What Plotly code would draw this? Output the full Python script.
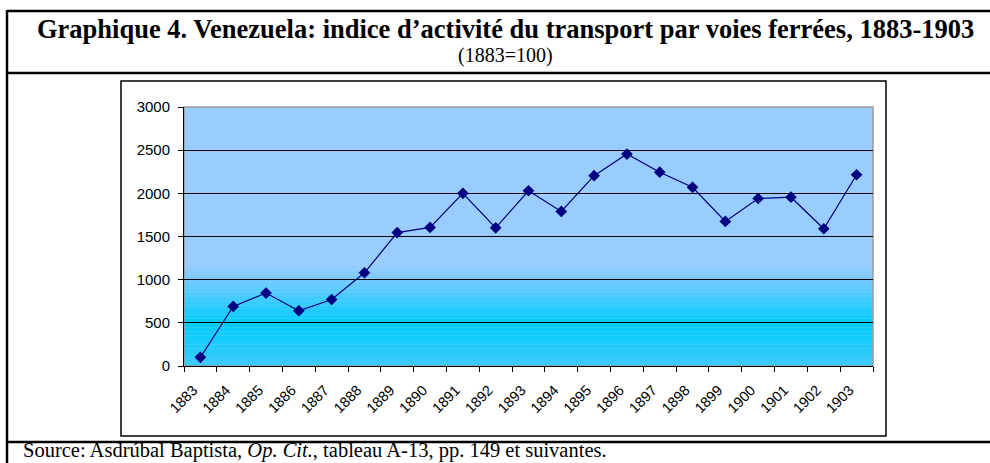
import plotly.graph_objects as go

# données
annees = [str(a) for a in range(1883, 1904)]
indice = [100, 690, 845, 640, 770, 1080, 1545, 1605, 2000, 1600, 2030,
          1790, 2205, 2455, 2245, 2070, 1675, 1940, 1955, 1590, 2215]

titre = "Graphique 4. Venezuela: indice d’activité du transport par voies ferrées, 1883-1903"
sous_titre = "(1883=100)"
source = "Source: Asdrúbal Baptista, <i>Op. Cit.</i>, tableau A-13, pp. 149 et suivantes."

W, H = 990, 463
L, R, T, B = 184, 873, 107, 366  # zone de tracé en pixels


def px(x):
    return (x - L) / (R - L)


def py(y):
    return (B - y) / (B - T)


def hexrgb(c):
    return tuple(int(c[i:i + 2], 16) for i in (1, 3, 5))


def couleur(v, stops):
    for (v0, c0), (v1, c1) in zip(stops, stops[1:]):
        if v0 <= v <= v1:
            t = (v - v0) / (v1 - v0) if v1 > v0 else 0
            a, b = hexrgb(c0), hexrgb(c1)
            return "rgb(%d,%d,%d)" % tuple(round(a[i] + (b[i] - a[i]) * t) for i in range(3))
    return stops[-1][1]


fig = go.Figure()

fig.add_trace(go.Scatter(
    x=annees, y=indice, mode="lines+markers",
    line=dict(color="#000080", width=1.2),
    marker=dict(symbol="diamond", size=9, color="#000080"),
    showlegend=False, hoverinfo="x+y",
))

# fond dégradé
stops = [(0, "#3ccbfb"), (500, "#00ccff"), (1150, "#99ccff"), (3000, "#99ccff")]
n = 60
for i in range(n):
    y0 = 3000 * i / n
    y1 = 3000 * (i + 1) / n
    fig.add_shape(type="rect", xref="paper", yref="y", x0=0, x1=1, y0=y0, y1=y1,
                  fillcolor=couleur((y0 + y1) / 2, stops), line=dict(width=0),
                  layer="below")

# bordure grise de la zone de tracé
fig.add_shape(type="rect", xref="paper", yref="paper", x0=0, x1=1, y0=0, y1=1,
              line=dict(color="#9a9a9a", width=1.5), layer="below")

# cadre du graphique
fig.add_shape(type="rect", xref="paper", yref="paper",
              x0=px(121), x1=px(886), y0=py(436), y1=py(81),
              line=dict(color="black", width=1.5))

# cadre du tableau
for yy in (11, 73, 442):
    fig.add_shape(type="line", xref="paper", yref="paper",
                  x0=px(7), x1=px(990), y0=py(yy), y1=py(yy),
                  line=dict(color="black", width=2.5))
fig.add_shape(type="line", xref="paper", yref="paper",
              x0=px(7), x1=px(7), y0=py(10), y1=py(463),
              line=dict(color="black", width=2.5))

fig.add_annotation(text="<b>" + titre + "</b>", xref="paper", yref="paper",
                   x=px(505), y=py(29), xanchor="center", yanchor="middle", showarrow=False,
                   font=dict(family="Liberation Serif", size=26.5, color="black"))
fig.add_annotation(text=sous_titre, xref="paper", yref="paper",
                   x=px(505), y=py(56), xanchor="center", yanchor="middle", showarrow=False,
                   font=dict(family="Liberation Serif", size=20, color="black"))
fig.add_annotation(text=source, xref="paper", yref="paper",
                   x=px(22), y=py(463), xanchor="left", yanchor="bottom", showarrow=False,
                   borderpad=0,
                   font=dict(family="Liberation Serif", size=20.5, color="black"))

fig.update_xaxes(type="category", tickson="boundaries", ticks="outside", ticklen=5,
                 tickcolor="black", showline=True, linecolor="black", linewidth=1,
                 showgrid=False, tickangle=-45, range=[-0.5, 20.5],
                 ticklabelstandoff=9, ticklabelshift=-7,
                 tickfont=dict(family="Liberation Sans", size=14.5, color="black"))
fig.update_yaxes(range=[0, 3000], dtick=500, ticks="outside", ticklen=5,
                 tickcolor="black", showline=True, linecolor="black", linewidth=1,
                 showgrid=True, gridcolor="black", gridwidth=1, zeroline=False,
                 ticklabelstandoff=5,
                 tickfont=dict(family="Liberation Sans", size=15, color="black"))

fig.update_layout(width=W, height=H, margin=dict(l=L, r=W - R, t=T, b=H - B),
                  paper_bgcolor="white", plot_bgcolor="#99ccff")

fig.write_html("out.html", config={"displayModeBar": False},
               post_script="document.body.style.margin='0';")
